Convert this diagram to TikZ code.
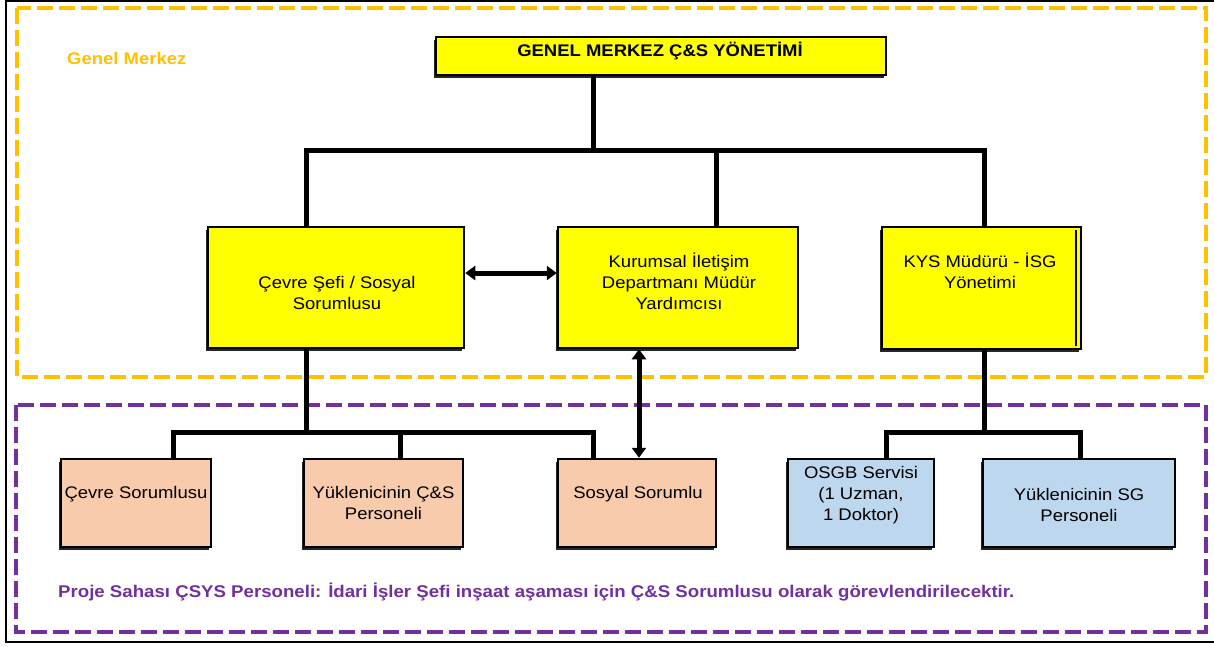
\documentclass[tikz,border=0pt]{standalone}
\usepackage{fontspec}
\setmainfont[FakeStretch=1.1]{Liberation Sans}
\usetikzlibrary{arrows.meta,shadows}
\definecolor{gmorange}{HTML}{FFC000}
\definecolor{gmpurple}{HTML}{7030A0}
\definecolor{peach}{HTML}{F8CBAD}
\definecolor{lblue}{HTML}{BDD7EE}
\definecolor{yel}{HTML}{FFFF00}
\begin{document}
\begin{tikzpicture}[x=1pt,y=-1pt,
  conn/.style={line width=5pt,line join=miter},
  dbl/.style={conn,{Triangle[length=10pt,width=14pt]}-{Triangle[length=10pt,width=14pt]}},
  zone/.style={line width=4pt,dash pattern=on 16pt off 6pt},
  boxbase/.style={draw=black,line width=2.5pt,inner sep=0pt,
    drop shadow={shadow xshift=-2pt,shadow yshift=-3pt,fill=black!85,opacity=1}},
  ybox/.style={boxbase,fill=yel},
  pbox/.style={boxbase,fill=peach},
  bbox/.style={boxbase,fill=lblue},
  txt/.style={inner sep=0pt,align=center,anchor=north,font=\fontsize{16.8}{21}\selectfont},
  btxt/.style={inner sep=0pt,font=\bfseries\fontsize{16.8}{21}\selectfont}]
\useasboundingbox (0,0) rectangle (1214,646);
% frame
\draw[line width=2pt] (1216,1) -- (6,1) -- (6,642) -- (1216,642);
% zones
\draw[zone,gmorange] (17,8) rectangle (1206,377);
\draw[zone,gmpurple] (16,405) rectangle (1206,632);
\node[btxt,anchor=base west,text=gmorange] (gm) at (67,64) {Genel Merkez};
\node[btxt,anchor=base west,text=gmpurple,font=\bfseries\fontsize{16.95}{21}\selectfont] (ps) at (58,597)
  {Proje Sahası ÇSYS Personeli: İdari İşler Şefi inşaat aşaması için Ç\&S Sorumlusu olarak görevlendirilecektir.};
% coordinates for connectors
\coordinate (b0) at (593,150);
\coordinate (bL) at (306,150);
\coordinate (bM) at (716,150);
\coordinate (bR) at (984,150);
\coordinate (cL) at (306,432);
\coordinate (l1) at (173,432);
\coordinate (l2) at (400,432);
\coordinate (l3) at (593,432);
\coordinate (cR) at (984,432);
\coordinate (r1) at (886,432);
\coordinate (r2) at (1080,432);
\coordinate (ah) at (0,273);
\coordinate (av) at (639,0);
% boxes
\node[ybox,minimum width=450pt,minimum height=38pt] (top) at (661,56) {};
\node[ybox,minimum width=256pt,minimum height=121pt] (cevre) at (336,287.5) {};
\node[ybox,minimum width=240pt,minimum height=121pt] (kur) at (678,287.5) {};
\node[ybox,minimum width=199pt,minimum height=122pt] (kys) at (981.5,288) {};
\draw[line width=1.5pt] (1076,230) -- (1076,346);
\node[pbox,minimum width=150pt,minimum height=88pt] (cs) at (136,503) {};
\node[pbox,minimum width=159pt,minimum height=88pt] (ycs) at (383.5,503) {};
\node[pbox,minimum width=158pt,minimum height=88pt] (sos) at (637,503) {};
\node[bbox,minimum width=146pt,minimum height=88pt] (osgb) at (861,503) {};
\node[bbox,minimum width=192pt,minimum height=88pt] (ysg) at (1079,503) {};
% connectors
\draw[conn] (b0 |- top.south) -- (b0);
\draw[conn] (bL |- cevre.north) -- (bL) -- (bR) -- (bR |- kys.north);
\draw[conn] (bM) -- (bM |- kur.north);
\draw[conn] (cL |- cevre.south) -- (cL);
\draw[conn] (l1 |- cs.north) -- (l1) -- (l3) -- (l3 |- sos.north);
\draw[conn] (l2) -- (l2 |- ycs.north);
\draw[conn] (cR |- kys.south) -- (cR);
\draw[conn] (r1 |- osgb.north) -- (r1) -- (r2) -- (r2 |- ysg.north);
\draw[dbl] (cevre.east |- ah) -- (kur.west |- ah);
\draw[dbl] (av |- kur.south) -- (av |- sos.north);
% texts
\node[btxt,anchor=base] (top-t) at (660,56) {GENEL MERKEZ Ç\&S YÖNETİMİ};
\node[txt] (cevre-t) at (337,273.3) {\strut Çevre Şefi / Sosyal\\Sorumlusu\strut};
\node[txt] (kur-t) at (679,252.3) {\strut Kurumsal İletişim\\Departmanı Müdür\\Yardımcısı\strut};
\node[txt] (kys-t) at (980,252.3) {\strut KYS Müdürü - İSG\\Yönetimi\strut};
\node[txt] (cs-t) at (136,483.3) {\strut Çevre Sorumlusu\strut};
\node[txt] (ycs-t) at (383.5,483.3) {\strut Yüklenicinin Ç\&S\\Personeli\strut};
\node[txt] (sos-t) at (638,483.3) {\strut Sosyal Sorumlu\strut};
\node[txt] (osgb-t) at (861,463.3) {\strut OSGB Servisi\\(1 Uzman,\\1 Doktor)\strut};
\node[txt] (ysg-t) at (1079,485.3) {\strut Yüklenicinin SG\\Personeli\strut};
\end{tikzpicture}
\end{document}
